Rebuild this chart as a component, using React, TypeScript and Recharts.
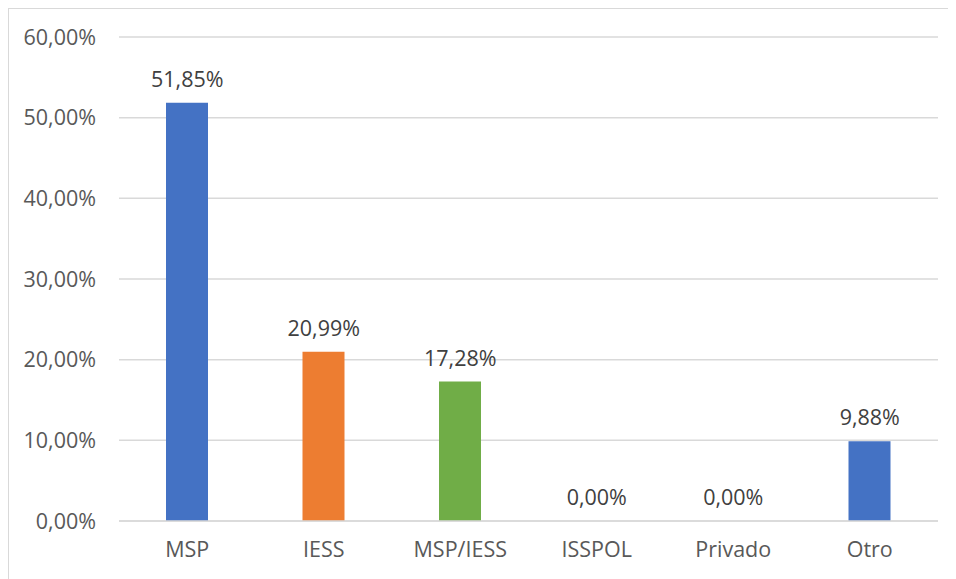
import React from "react";
import { ComposedChart, Bar, Line, XAxis, YAxis, CartesianGrid, LabelList, Cell } from "recharts";

const categories = ["MSP", "IESS", "MSP/IESS", "ISSPOL", "Privado", "Otro"];
const values = [51.85, 20.99, 17.28, 0, 0, 9.88];
const colors = ["#4472C4", "#ED7D31", "#70AD47", "#A5A5A5", "#FFC000", "#4472C4"];
const yTicks = [0, 10, 20, 30, 40, 50, 60];

const data = categories.map((c, i) => ({ name: c, value: values[i] }));

const fmt = (v: number) => v.toFixed(2).replace(".", ",") + "%";

const FONT = "'Open Sans', 'Liberation Sans', sans-serif";
const FS = 21.5;

export default function App() {
  return (
    <div
      style={{
        width: 947,
        height: 570,
        borderLeft: "1px solid #d9d9d9",
        borderTop: "1px solid #d9d9d9",
        background: "#fff",
        fontFamily: FONT,
      }}
    >
      <ComposedChart
        width={947}
        height={570}
        data={data}
        margin={{ top: 28, right: 18, left: 0, bottom: 0 }}
      >
        <CartesianGrid vertical={false} stroke="#d9d9d9" strokeWidth={1.5} />
        <XAxis
          dataKey="name"
          height={58}
          axisLine={{ stroke: "#d9d9d9", strokeWidth: 1.5 }}
          tickLine={false}
          tickSize={0}
          tickMargin={21}
          tick={{ fill: "#595959", fontSize: FS, fontFamily: FONT }}
          interval={0}
        />
        <YAxis
          width={110}
          domain={[0, 60]}
          ticks={yTicks}
          axisLine={false}
          tickLine={false}
          tickSize={0}
          tickMargin={23}
          tickFormatter={fmt}
          tick={{ fill: "#595959", fontSize: FS, fontFamily: FONT }}
        />
        <Bar dataKey="value" barSize={42} isAnimationActive={false}>
          {data.map((d, i) => (
            <Cell key={d.name} fill={colors[i]} />
          ))}
        </Bar>
        <Line
          dataKey="value"
          stroke="none"
          dot={false}
          activeDot={false}
          isAnimationActive={false}
        >
          <LabelList
            dataKey="value"
            position="top"
            offset={16}
            formatter={(v: any) => fmt(Number(v))}
            style={{ fill: "#404040", fontSize: FS, fontFamily: FONT }}
          />
        </Line>
      </ComposedChart>
    </div>
  );
}
